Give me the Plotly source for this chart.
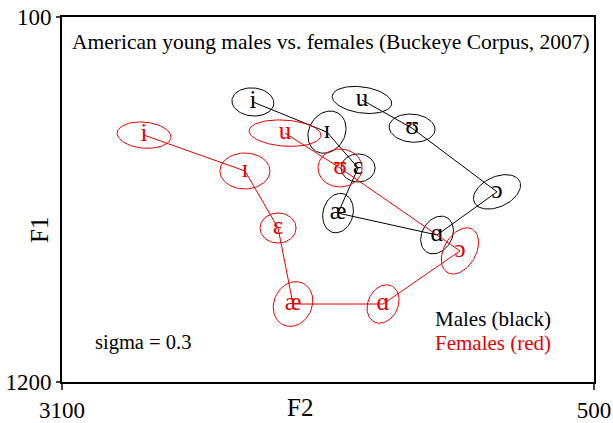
import numpy as np
import plotly.graph_objects as go

vowels = ["i", "ɪ", "ɛ", "æ", "ɑ", "ɔ", "ʊ", "u"]

# males (black)
male_f2 = [2167, 1805, 1653, 1751, 1267, 974, 1389, 1634]
male_f1 = [356, 447, 555, 691, 757, 627, 435, 350]

# females (red)
female_f2 = [2699, 2206, 2044, 1971, 1531, 1155, 1741, 2010]
female_f1 = [456, 564, 736, 965, 965, 805, 555, 450]

# ellipse semi axes (px on screen) and tilt (deg)
male_a = [21, 22, 17, 20, 20, 25, 23, 30]
male_b = [14, 18, 14, 15, 15, 15, 14, 13]
male_ang = [-5, 60, 0, 75, 60, 25, -5, -8]

female_a = [27, 25, 18, 23, 20, 25, 22, 36]
female_b = [13, 18, 15, 19, 15, 16, 19, 13]
female_ang = [-5, 0, 0, 65, 65, 60, 0, -4]

W, H = 613, 423
ml, mr, mt, mb = 62, 19, 17, 41
x_rng = [3100, 500]
y_rng = [1200, 100]
hz_per_px_x = (x_rng[0] - x_rng[1]) / (W - ml - mr)
hz_per_px_y = (y_rng[0] - y_rng[1]) / (H - mt - mb)

RED = "#e60000"
FONT = "Liberation Serif"


def ellipse(cx, cy, a, b, ang):
    t = np.linspace(0, 2 * np.pi, 80)
    th = np.radians(ang)
    px = a * np.cos(t) * np.cos(th) - b * np.sin(t) * np.sin(th)
    py = a * np.cos(t) * np.sin(th) + b * np.sin(t) * np.cos(th)
    return cx - px * hz_per_px_x, cy - py * hz_per_px_y


def paper(px, py):
    return (px - ml) / (W - ml - mr), 1 - (py - mt) / (H - mt - mb)


fig = go.Figure()

for f2, f1, aa, bb, angs, col in [
    (male_f2, male_f1, male_a, male_b, male_ang, "black"),
    (female_f2, female_f1, female_a, female_b, female_ang, RED),
]:
    for i in range(len(vowels)):
        ex, ey = ellipse(f2[i], f1[i], aa[i], bb[i], angs[i])
        fig.add_trace(go.Scatter(x=ex, y=ey, mode="lines",
                                 line=dict(color=col, width=1),
                                 hoverinfo="skip", showlegend=False))
    fig.add_trace(go.Scatter(x=f2, y=f1, mode="lines",
                             line=dict(color=col, width=1),
                             showlegend=False))
    fig.add_trace(go.Scatter(x=f2, y=f1, mode="text", text=vowels,
                             textposition="middle center",
                             textfont=dict(family=FONT, size=25, color=col),
                             showlegend=False))

fig.update_layout(
    width=W, height=H,
    margin=dict(l=ml, r=mr, t=mt, b=mb),
    plot_bgcolor="white", paper_bgcolor="white",
    font=dict(family=FONT, color="black"),
    xaxis=dict(range=x_rng, tickvals=[3100, 500], ticks="outside",
               ticklen=6, tickwidth=1.5, showgrid=False, zeroline=False,
               showline=True, mirror=True, linewidth=2, linecolor="black",
               tickfont=dict(family=FONT, size=23), automargin=False),
    yaxis=dict(range=y_rng, tickvals=[100, 1200], ticks="outside",
               ticklen=4, tickwidth=1.5, showgrid=False, zeroline=False,
               showline=True, mirror=True, linewidth=2, linecolor="black",
               tickfont=dict(family=FONT, size=23), automargin=False),
)

notes = [
    ("American young males vs. females (Buckeye Corpus, 2007)", 70, 42, 21.5, "black"),
    ("sigma = 0.3", 93, 342, 20.5, "black"),
    ("Males (black)", 433, 319, 21, "black"),
    ("Females (red)", 433, 343, 21, RED),
]
for txt, px, py, sz, col in notes:
    x, y = paper(px, py)
    fig.add_annotation(x=x, y=y, xref="paper", yref="paper", text=txt,
                       showarrow=False, xanchor="left", yanchor="middle",
                       font=dict(size=sz, color=col))

x, y = paper(300, 407)
fig.add_annotation(x=x, y=y, xref="paper", yref="paper", text="F2",
                   showarrow=False, xanchor="center", yanchor="middle",
                   font=dict(size=25))
x, y = paper(39, 230)
fig.add_annotation(x=x, y=y, xref="paper", yref="paper", text="F1",
                   showarrow=False, textangle=-90, xanchor="center",
                   yanchor="middle", font=dict(size=25))

fig.write_html("out.html", config={"displayModeBar": False},
               post_script="document.body.style.margin='0';")
